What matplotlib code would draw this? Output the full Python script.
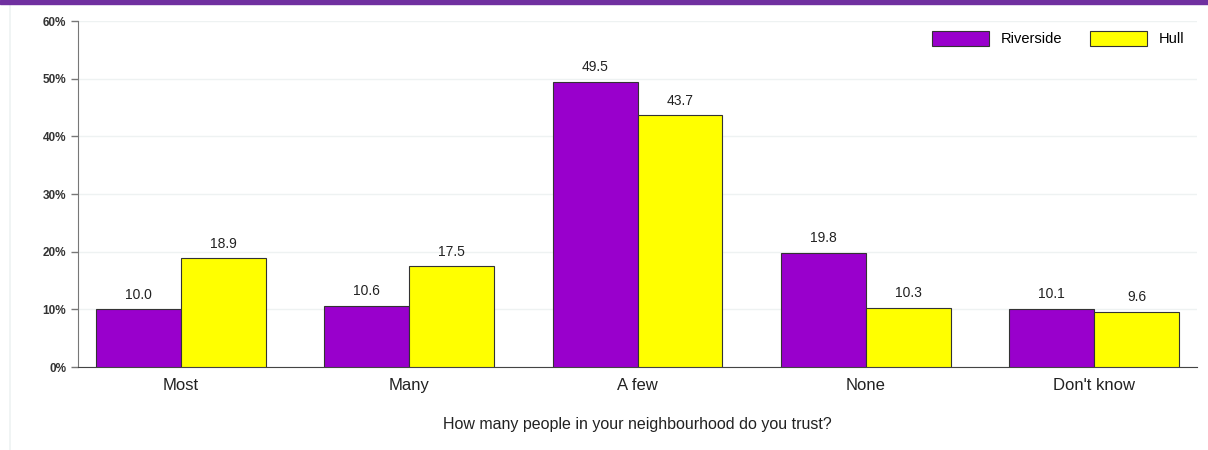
import numpy as np
import matplotlib.pyplot as plt
from matplotlib.patches import Rectangle
from matplotlib.lines import Line2D

categories = ["Most", "Many", "A few", "None", "Don't know"]
riverside = [10.0, 10.6, 49.5, 19.8, 10.1]
hull = [18.9, 17.5, 43.7, 10.3, 9.6]
y_ticks = [0, 10, 20, 30, 40, 50, 60]

plt.rcParams['font.family'] = ['Liberation Sans', 'DejaVu Sans']

fig = plt.figure(figsize=(12.08, 4.5), dpi=100)
ax = fig.add_axes([0.0646, 0.1844, 0.9263, 0.7689])

# purple strip along the top and faint left border
fig.patches.append(Rectangle((0, 0.991), 1, 0.009, transform=fig.transFigure,
                             color='#7030a0', zorder=10))
fig.lines.append(Line2D([0.0085, 0.0085], [0, 0.99], transform=fig.transFigure,
                        color='#eef2f2', lw=1.2))

x = np.arange(len(categories))
w = 0.372
b1 = ax.bar(x - w / 2, riverside, w, color='#9900cc', edgecolor='#333333',
            linewidth=0.8, label='Riverside', zorder=3)
b2 = ax.bar(x + w / 2, hull, w, color='#ffff00', edgecolor='#333333',
            linewidth=0.8, label='Hull', zorder=3)

for bars, vals in ((b1, riverside), (b2, hull)):
    for r, v in zip(bars, vals):
        ax.text(r.get_x() + r.get_width() / 2, v + 1.3, f"{v:.1f}",
                ha='center', va='bottom', fontsize=10, color='#222222')

ax.set_xlim(-0.45, len(categories) - 0.55)
ax.set_ylim(0, 60)
ax.set_yticks(y_ticks)
ax.set_yticklabels([f"{t}%" for t in y_ticks], fontsize=8.5, fontweight='bold',
                   color='#333333')
ax.set_xticks(x)
ax.set_xticklabels(categories, fontsize=12, color='#222222')
ax.tick_params(axis='x', length=0, pad=8)
ax.tick_params(axis='y', length=5, color='#777777', width=1)
ax.set_xlabel("How many people in your neighbourhood do you trust?",
              fontsize=11.5, color='#222222', labelpad=17)

ax.grid(axis='y', color='#eef2f2', linewidth=1, zorder=0)
for s in ('top', 'right'):
    ax.spines[s].set_visible(False)
ax.spines['left'].set_color('#777777')
ax.spines['bottom'].set_color('#444444')

ax.legend(loc='upper right', ncol=2, frameon=False, fontsize=10.5,
          handlelength=3.9, handleheight=1.25, columnspacing=1.9,
          handletextpad=0.8, bbox_to_anchor=(1.0, 1.01))

fig.savefig('out.png', dpi=100)
